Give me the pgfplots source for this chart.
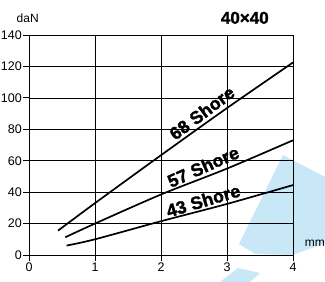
\documentclass[border=0pt]{standalone}
\usepackage{pgfplots}
\pgfplotsset{compat=1.18}
\usepackage{fontspec}
\setmainfont{Liberation Sans}
\newfontfamily\heavy[FakeBold=1.6]{Liberation Sans Bold}
\definecolor{wmblue}{RGB}{200,231,247}
\begin{document}
\begin{tikzpicture}
\useasboundingbox (-29pt,-27pt) rectangle (296pt,255pt);
% light blue background watermark
\fill[wmblue] (254pt,100pt) -- (296pt,78pt) -- (296pt,12pt) -- (264pt,0pt) -- (226pt,1pt) -- (210pt,11pt) -- cycle;
\fill[wmblue] (191pt,-27pt) -- (209pt,-13pt) -- (231pt,-18pt) -- (221pt,-27pt) -- cycle;
\begin{axis}[
  at={(0,0)}, anchor=south west,
  width=264pt, height=220pt, scale only axis,
  xmin=0, xmax=4, ymin=0, ymax=140,
  xtick={0,1,2,3,4}, ytick={0,20,...,140},
  grid=major,
  major grid style={black, line width=0.7pt},
  axis line style={black, line width=0.9pt},
  tick align=outside, xtick pos=left, ytick pos=left,
  major tick length=6pt,
  tick style={black, line width=0.8pt},
  /pgf/number format/assume math mode=true,
  tick label style={font=\fontsize{12.5}{13}\selectfont},
  yticklabel style={inner sep=1pt},
  xticklabel style={inner sep=2pt},
  clip=false,
]
\addplot[black, line width=1.7pt, smooth] coordinates {(0.44,15.5) (1,33) (2,63.5) (3,93.5) (4,122.5)};
\addplot[black, line width=1.7pt, smooth] coordinates {(0.55,11.3) (1,20) (2,38.5) (3,55) (4,73)};
\addplot[black, line width=1.7pt, smooth] coordinates {(0.57,6) (1,10) (2,21.5) (3,32.5) (4,44.5)};
\node[rotate=37, font=\fontsize{18}{19}\selectfont\heavy, inner sep=0pt] at (axis cs:2.62,90.4) {68 Shore};
\node[rotate=24, font=\fontsize{18}{19}\selectfont\heavy, inner sep=0pt] at (axis cs:2.64,56.2) {57 Shore};
\node[rotate=16.5, font=\fontsize{18}{19}\selectfont\heavy, inner sep=0pt] at (axis cs:2.64,34.6) {43 Shore};
\node[font=\fontsize{12}{13}\selectfont] at (axis cs:-0.02,150.9) {daN};
\node[font=\fontsize{17}{18}\selectfont\heavy] at (axis cs:3.27,150.9) {40×40};
\node[font=\fontsize{12}{13}\selectfont] at (axis cs:4.33,7.6) {mm};
\end{axis}
\end{tikzpicture}
\end{document}
